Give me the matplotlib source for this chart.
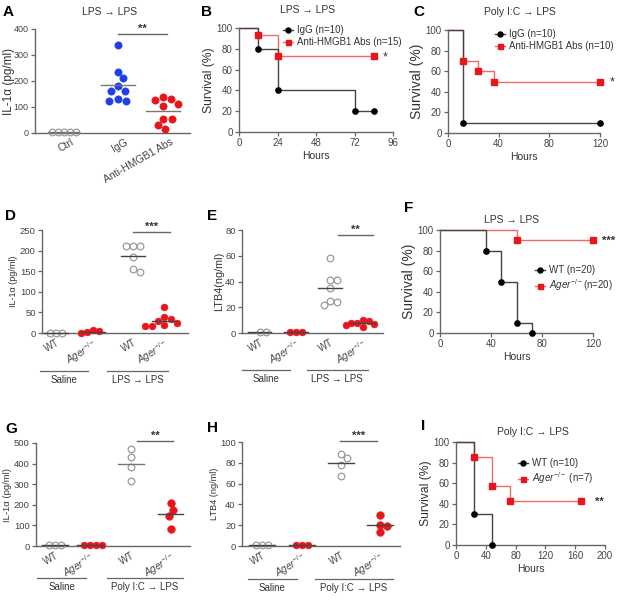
import numpy as np
import matplotlib
matplotlib.use('Agg')
import matplotlib.pyplot as plt
from matplotlib.lines import Line2D
from matplotlib.transforms import blended_transform_factory, ScaledTranslation

plt.rcParams['font.family'] = ['Liberation Sans', 'DejaVu Sans']
plt.rcParams['mathtext.fontset'] = 'custom'
plt.rcParams['mathtext.rm'] = 'Liberation Sans'
plt.rcParams['mathtext.it'] = 'Liberation Sans:italic'

# ---- data ----
# A: IL-1a (pg/ml), LPS -> LPS
a_groups = ['Ctrl', 'IgG', 'Anti-HMGB1 Abs']
a_ctrl = [2, 2, 2, 2, 2]
a_igg = [340, 235, 210, 180, 162, 162, 130, 122, 122]
a_anti = [138, 130, 126, 110, 103, 55, 53, 30, 14]

# B: survival, LPS -> LPS
b_igg_t = [0, 12, 24, 72, 84]
b_igg_s = [100, 80, 40, 20, 20]
b_anti_t = [0, 12, 24, 84]
b_anti_s = [100, 93.3, 73.3, 73.3]

# C: survival, Poly I:C -> LPS
c_igg_t = [0, 12, 120]
c_igg_s = [100, 10, 10]
c_anti_t = [0, 12, 24, 36, 120]
c_anti_s = [100, 70, 60, 50, 50]

# D: IL-1a (pg/ml)
d_wt_sal = [1, 1, 1]
d_ko_sal = [8, 4, 2, 0]
d_wt_lps = [212, 210, 210, 185, 155, 147]
d_ko_lps = [62, 38, 34, 30, 24, 20, 18, 16]

# E: LTB4 (ng/ml)
e_wt_sal = [0.5, 0.5]
e_ko_sal = [0.5, 0.5, 0.5]
e_wt_lps = [58, 41, 41, 35, 25, 24, 22]
e_ko_lps = [10, 9, 8, 8, 7, 6, 5]

# F: survival, LPS -> LPS
f_wt_t = [0, 36, 48, 60, 72]
f_wt_s = [100, 80, 50, 10, 0]
f_ko_t = [0, 60, 120]
f_ko_s = [100, 90, 90]

# G: IL-1a (pg/ml), Poly I:C -> LPS
g_wt_sal = [3, 3, 3]
g_ko_sal = [6, 5, 5, 6]
g_wt_lps = [469, 432, 383, 317]
g_ko_lps = [209, 176, 146, 84]

# H: LTB4 (ng/ml), Poly I:C -> LPS
h_wt_sal = [0.5, 0.5, 0.5]
h_ko_sal = [0.5, 0.5, 0.5]
h_wt_lps = [88, 85, 78, 67]
h_ko_lps = [30, 20, 19, 13]

# I: survival, Poly I:C -> LPS
i_wt_t = [0, 24, 48]
i_wt_s = [100, 30, 0]
i_ko_t = [0, 24, 48, 72, 168]
i_ko_s = [100, 85.7, 57.1, 42.9, 42.9]

KO = r'$\mathit{Ager}^{-/-}$'
ARROW = '\u2192'

BLUE = '#1f3fe6'
RED = '#e8161c'
LRED = '#f26a6a'
DARK = '#333333'
AXC = '#666666'

W, H = 620, 600
fig = plt.figure(figsize=(6.2, 6.0), dpi=100)


def box(l, t, r, b):
    return fig.add_axes([l / W, 1 - b / H, (r - l) / W, (b - t) / H])


def ftext(x, y, s, **kw):
    fig.text(x / W, 1 - y / H, s, **kw)


def style(ax, size=6.5):
    for s in ['top', 'right']:
        ax.spines[s].set_visible(False)
    for s in ['left', 'bottom']:
        ax.spines[s].set_color(AXC)
        ax.spines[s].set_linewidth(1.0)
    ax.tick_params(colors=AXC, labelcolor='#444444', length=3, width=0.9,
                   labelsize=size, pad=1.5)
    ax.patch.set_alpha(0)


def swarm_x(ax, x0, vals, d=7.2):
    tr = ax.transData
    ys = tr.transform(np.column_stack([np.full(len(vals), x0), vals]))[:, 1]
    placed = []
    offs = []
    for y in ys:
        cands = [0.0]
        for px_, py_ in placed:
            dy = abs(y - py_)
            if dy < d:
                dx = np.sqrt(d * d - dy * dy)
                cands += [px_ + dx, px_ - dx]
        cands.sort(key=abs)
        for c in cands:
            if all((c - px_) ** 2 + (y - py_) ** 2 >= d * d - 1e-6 for px_, py_ in placed):
                break
        placed.append((c, y))
        offs.append(c)
    x0px = tr.transform((x0, 0))[0]
    inv = tr.inverted()
    return [inv.transform((x0px + c, 0))[0] for c in offs]


def dots(ax, x0, vals, color=None, half=0.33, ms=4.8, lc='#444444', d=7.2):
    xs = swarm_x(ax, x0, vals, d)
    if color is None:
        ax.plot(xs, vals, 'o', ms=ms, mfc='none', mec='#9a9a9a', mew=0.9,
                ls='none', clip_on=False, zorder=3)
    else:
        ax.plot(xs, vals, 'o', ms=ms, mfc=color, mec=color, mew=0.5,
                ls='none', clip_on=False, zorder=3)
    m = np.mean(vals)
    ax.plot([x0 - half, x0 + half], [m, m], color=lc, lw=1.0, zorder=4,
            clip_on=False)


def sig(ax, x1, x2, y, s, size=8):
    ax.plot([x1, x2], [y, y], color=AXC, lw=1.0, clip_on=False)
    ax.text((x1 + x2) / 2, y, s, ha='center', va='bottom', fontsize=size,
            fontweight='bold', color=DARK)


def groups(ax, spans, names, yline, size=7):
    tr = blended_transform_factory(ax.transData, ax.transAxes)
    for (x1, x2), n in zip(spans, names):
        ax.plot([x1, x2], [yline, yline], transform=tr, color=AXC, lw=0.9,
                clip_on=False)
        ax.text((x1 + x2) / 2, yline - 0.035, n, transform=tr, ha='center',
                va='top', fontsize=size, color=DARK)


def catlabels(ax, pos, labels, size=7, shift=0):
    ax.set_xticks(pos)
    ax.set_xticklabels(labels, rotation=30, ha='right', rotation_mode='anchor',
                       fontsize=size)
    ax.tick_params(axis='x', length=0, pad=3)
    if shift:
        off = ScaledTranslation(shift / 100, 0, fig.dpi_scale_trans)
        for lab in ax.get_xticklabels():
            lab.set_transform(lab.get_transform() + off)


def km(ax, t, s, mcolor, lcolor, marker):
    ax.plot(t, s, drawstyle='steps-post', color=lcolor, lw=1.0, clip_on=False,
            zorder=2)
    ax.plot(t[1:], s[1:], ls='none', marker=marker, color=mcolor, ms=3.8,
            clip_on=False, zorder=3)


def leg(ax, x, y, entries, size=7):
    hs = [Line2D([], [], color=lc, marker=mk, mfc=mc, mec=mc, ms=3.6, lw=1.0)
          for mc, lc, mk, _ in entries]
    ax.legend(hs, [e[3] for e in entries], loc='upper left',
              bbox_to_anchor=(x / W, 1 - y / H), bbox_transform=fig.transFigure,
              frameon=False, fontsize=size, handlelength=1.0,
              handletextpad=0.4, labelspacing=0.25, borderpad=0,
              borderaxespad=0, labelcolor=DARK)


def surv_axes(ax, xmax, xticks, ylabel_size):
    style(ax, 7)
    ax.set_xlim(0, xmax)
    ax.set_ylim(0, 100)
    ax.set_xticks(xticks)
    ax.set_yticks(range(0, 101, 20))
    ax.set_xlabel('Hours', fontsize=7.5, color=DARK, labelpad=2)
    ax.set_ylabel('Survival (%)', fontsize=ylabel_size, color=DARK, labelpad=1)


# ---- A ----
axA = box(35, 29, 190, 133)
style(axA, 6.5)
axA.set_xlim(0, 3)
axA.set_ylim(0, 400)
axA.set_yticks(range(0, 401, 100))
a_pos = [0.56, 1.6, 2.48]
dots(axA, a_pos[0], a_ctrl, None, half=0.3, lc='#777777', d=6.2)
dots(axA, a_pos[1], a_igg, BLUE, ms=5.2, lc='#777777', d=8.5)
dots(axA, a_pos[2], a_anti, RED, ms=5.2, lc='#777777', d=8.5)
catlabels(axA, a_pos, a_groups, 7.5, shift=7)
axA.set_ylabel('IL-1\u03b1 (pg/ml)', fontsize=8.5, color=DARK)
axA.yaxis.set_label_coords(-0.128, 0.5)
sig(axA, 1.6, 2.55, 380, '**')
ftext(110, 12, 'LPS ' + ARROW + ' LPS', ha='center', va='center',
      fontsize=7.5, color=DARK)

# ---- B ----
axB = box(239, 28, 393, 132)
surv_axes(axB, 96, [0, 24, 48, 72, 96], 8.7)
km(axB, b_anti_t, b_anti_s, RED, LRED, 's')
km(axB, b_igg_t, b_igg_s, 'black', '#444444', 'o')
axB.text(91, 72, '*', ha='center', va='center', fontsize=9, color=DARK)
leg(axB, 283, 25, [('black', '#444444', 'o', 'IgG (n=10)'),
                   (RED, LRED, 's', 'Anti-HMGB1 Abs (n=15)')])
ftext(308, 10, 'LPS ' + ARROW + ' LPS', ha='center', va='center',
      fontsize=7.5, color=DARK)

# ---- C ----
axC = box(448, 30, 600, 133)
surv_axes(axC, 120, [0, 40, 80, 120], 10)
km(axC, c_anti_t, c_anti_s, RED, LRED, 's')
km(axC, c_igg_t, c_igg_s, 'black', '#444444', 'o')
axC.text(130, 49, '*', ha='center', va='center', fontsize=9, color=DARK)
leg(axC, 495, 29, [('black', '#444444', 'o', 'IgG (n=10)'),
                   (RED, LRED, 's', 'Anti-HMGB1 Abs (n=10)')])
ftext(520, 12, 'Poly I:C ' + ARROW + ' LPS', ha='center', va='center',
      fontsize=7.5, color=DARK)

# ---- D ----
axD = box(42, 230, 188, 333)
style(axD, 6.8)
axD.set_xlim(0, 4)
axD.set_ylim(0, 250)
axD.set_yticks(range(0, 251, 50))
d_pos = [0.38, 1.4, 2.5, 3.34]
dots(axD, d_pos[0], d_wt_sal, None, d=6.3)
dots(axD, d_pos[1], d_ko_sal, RED, d=6.3)
dots(axD, d_pos[2], d_wt_lps, None)
dots(axD, d_pos[3], d_ko_lps, RED)
catlabels(axD, d_pos, ['WT', KO, 'WT', KO])
axD.set_ylabel('IL-1\u03b1 (pg/ml)', fontsize=6.5, color=DARK, labelpad=1)
sig(axD, 2.49, 3.5, 245, '***')
groups(axD, [(-0.05, 1.26), (1.78, 3.45)], ['Saline', 'LPS ' + ARROW + ' LPS'],
       -0.37)

# ---- E ----
axE = box(242, 230, 383, 333)
style(axE, 6.8)
axE.set_xlim(0, 4)
axE.set_ylim(0, 80)
axE.set_yticks(range(0, 81, 20))
e_pos = [0.5, 1.53, 2.5, 3.43]
dots(axE, e_pos[0], e_wt_sal, None, d=6.3)
dots(axE, e_pos[1], e_ko_sal, RED, d=6.3)
dots(axE, e_pos[2], e_wt_lps, None)
dots(axE, e_pos[3], e_ko_lps, RED, d=6.0)
catlabels(axE, e_pos, ['WT', KO, 'WT', KO])
axE.set_ylabel('LTB4(ng/ml)', fontsize=7.8, color=DARK, labelpad=1)
sig(axE, 2.72, 3.72, 76, '**')
groups(axE, [(0.0, 1.36), (1.84, 3.57)], ['Saline', 'LPS ' + ARROW + ' LPS'],
       -0.36)

# ---- F ----
axF = box(440, 230, 593, 333)
surv_axes(axF, 120, [0, 40, 80, 120], 10)
km(axF, f_ko_t, f_ko_s, RED, LRED, 's')
km(axF, f_wt_t, f_wt_s, 'black', '#444444', 'o')
axF.text(132, 89, '***', ha='center', va='center', fontsize=8,
         fontweight='bold', color=DARK)
leg(axF, 535, 265, [('black', '#444444', 'o', 'WT (n=20)'),
                    (RED, LRED, 's', r'$\mathit{Ager}^{-/-}$(n=20)')])
ftext(512, 220, 'LPS ' + ARROW + ' LPS', ha='center', va='center',
      fontsize=7.5, color=DARK)

# ---- G ----
axG = box(36, 443, 190, 546)
style(axG, 6.8)
axG.set_xlim(0, 4)
axG.set_ylim(0, 500)
axG.set_yticks(range(0, 501, 100))
g_pos = [0.49, 1.4, 2.47, 3.5]
dots(axG, g_pos[0], g_wt_sal, None, d=6.3)
dots(axG, g_pos[1], g_ko_sal, RED, d=6.3)
dots(axG, g_pos[2], g_wt_lps, None, lc='#777777')
dots(axG, g_pos[3], g_ko_lps, RED, ms=5.4)
catlabels(axG, g_pos, ['WT', KO, 'WT', KO])
axG.set_ylabel('IL-1\u03b1 (pg/ml)', fontsize=6.8, color=DARK, labelpad=1)
sig(axG, 2.62, 3.56, 510, '**')
groups(axG, [(0.03, 1.3), (1.84, 3.82)],
       ['Saline', 'Poly I:C ' + ARROW + ' LPS'], -0.31)

# ---- H ----
axH = box(242, 442, 400, 546)
style(axH, 6.8)
axH.set_xlim(0, 4)
axH.set_ylim(0, 100)
axH.set_yticks(range(0, 101, 20))
h_pos = [0.51, 1.52, 2.5, 3.5]
dots(axH, h_pos[0], h_wt_sal, None, d=6.3)
dots(axH, h_pos[1], h_ko_sal, RED, d=6.3)
dots(axH, h_pos[2], h_wt_lps, None)
dots(axH, h_pos[3], h_ko_lps, RED, ms=5.4)
catlabels(axH, h_pos, ['WT', KO, 'WT', KO])
axH.set_ylabel('LTB4 (ng/ml)', fontsize=6.6, color=DARK, labelpad=1)
sig(axH, 2.48, 3.42, 101, '***')
groups(axH, [(0.15, 1.39), (1.85, 3.82)],
       ['Saline', 'Poly I:C ' + ARROW + ' LPS'], -0.317)

# ---- I ----
axI = box(456, 442, 605, 545)
surv_axes(axI, 200, range(0, 201, 40), 8.7)
km(axI, i_ko_t, i_ko_s, RED, LRED, 's')
km(axI, i_wt_t, i_wt_s, 'black', '#444444', 'o')
axI.text(192, 42, '**', ha='center', va='center', fontsize=8,
         fontweight='bold', color=DARK)
leg(axI, 518, 458, [('black', '#444444', 'o', 'WT (n=10)'),
                    (RED, LRED, 's', r'$\mathit{Ager}^{-/-}$ (n=7)')])
ftext(533, 432, 'Poly I:C ' + ARROW + ' LPS', ha='center', va='center',
      fontsize=7.5, color=DARK)

# ---- panel letters ----
for letter, x, y in [('A', 3, 5), ('B', 201, 5), ('C', 413, 5),
                     ('D', 5, 209), ('E', 207, 209), ('F', 404, 201),
                     ('G', 5, 422), ('H', 207, 421), ('I', 421, 419)]:
    ftext(x, y, letter, ha='left', va='top', fontsize=11, fontweight='bold',
          color='black')

fig.savefig('out.png', dpi=100)
